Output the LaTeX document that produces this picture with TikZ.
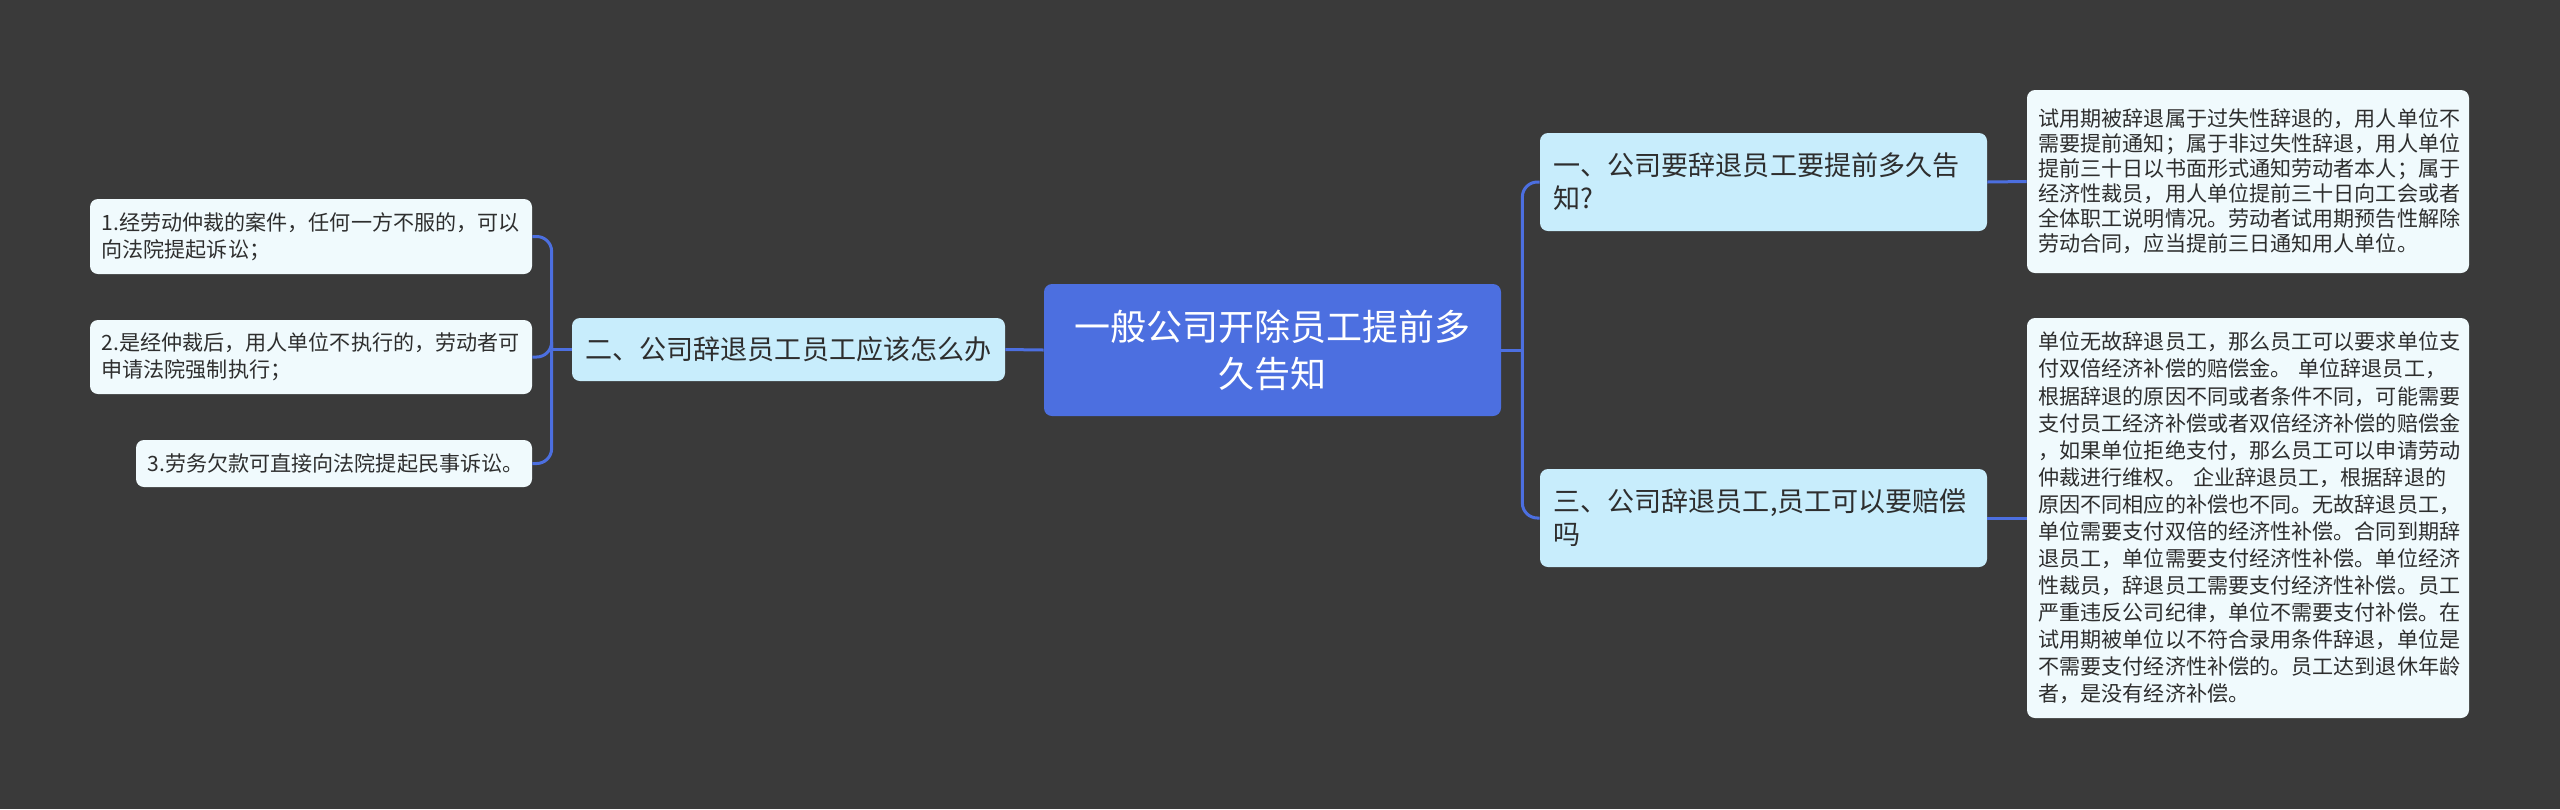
\documentclass[tikz,border=0pt]{standalone}
\usepackage{fontspec}
\setmainfont{Noto Sans CJK SC}
\definecolor{bgdark}{HTML}{3A3A3A}
\definecolor{rootblue}{HTML}{4C6FE0}
\definecolor{topiccyan}{HTML}{C8EDFC}
\definecolor{leafwhite}{HTML}{F0FAFD}
\definecolor{linkblue}{HTML}{4C6FE0}
\definecolor{textdark}{HTML}{2E2E2E}
\begin{document}
\begin{tikzpicture}[
  every node/.style={rounded corners=0.16cm, inner ysep=0pt, text=textdark},
  root/.style={fill=rootblue, text=white, minimum width=9.14cm, minimum height=2.64cm, align=center, font=\fontsize{20.5pt}{26.8pt}\selectfont},
  topic/.style={fill=topiccyan, minimum height=1.96cm, inner xsep=0.27cm, text width=8.4cm, align=left, font=\fontsize{15.4pt}{18.8pt}\selectfont},
  leaf/.style={fill=leafwhite, inner xsep=0.23cm, text width=8.38cm, align=left, font=\fontsize{12pt}{15.2pt}\selectfont},
  link/.style={draw=linkblue, line width=0.06cm}
]
  \fill[bgdark] (0,0) rectangle (51.2,-16.18);

  \node[root] (root) at (25.45,-7.0) {一般公司开除员工提前多\\久告知};
  \node[topic] (one) at (35.27,-3.64) {一、公司要辞退员工要提前多久告\\知?};
  \node[topic] (three) at (35.27,-10.36) {三、公司辞退员工,员工可以要赔偿\\吗};
  \node[topic, minimum height=1.26cm, text width=8.12cm, align=center] (two) at (15.77,-6.99) {二、公司辞退员工员工应该怎么办};

  \node[leaf, minimum height=3.66cm, font=\fontsize{12pt}{14.2pt}\selectfont] (ra) at (44.96,-3.63) {试用期被辞退属于过失性辞退的，用人单位不\\需要提前通知；属于非过失性辞退，用人单位\\提前三十日以书面形式通知劳动者本人；属于\\经济性裁员，用人单位提前三十日向工会或者\\全体职工说明情况。劳动者试用期预告性解除\\劳动合同，应当提前三日通知用人单位。};
  \node[leaf, minimum height=8.0cm, font=\fontsize{12pt}{15.4pt}\selectfont] (rb) at (44.96,-10.36) {单位无故辞退员工，那么员工可以要求单位支\\付双倍经济补偿的赔偿金。 单位辞退员工，\\根据辞退的原因不同或者条件不同，可能需要\\支付员工经济补偿或者双倍经济补偿的赔偿金\\，如果单位拒绝支付，那么员工可以申请劳动\\仲裁进行维权。 企业辞退员工，根据辞退的\\原因不同相应的补偿也不同。无故辞退员工，\\单位需要支付双倍的经济性补偿。合同到期辞\\退员工，单位需要支付经济性补偿。单位经济\\性裁员，辞退员工需要支付经济性补偿。员工\\严重违反公司纪律，单位不需要支付补偿。在\\试用期被单位以不符合录用条件辞退，单位是\\不需要支付经济性补偿的。员工达到退休年龄\\者，是没有经济补偿。};

  \node[leaf, minimum height=1.5cm] (la) at (6.22,-4.73) {1.经劳动仲裁的案件，任何一方不服的，可以\\向法院提起诉讼；};
  \node[leaf, minimum height=1.48cm] (lb) at (6.22,-7.14) {2.是经仲裁后，用人单位不执行的，劳动者可\\申请法院强制执行；};
  \node[leaf, minimum height=0.94cm, text width=7.46cm] (lc) at (6.68,-9.27) {3.劳务欠款可直接向法院提起民事诉讼。};

  \coordinate (spL) at ([xshift=-0.4cm]two.west);
  \coordinate (spR) at ([xshift=0.42cm]root.east);
  \draw[link] (root.west) -- (two.east);
  \draw[link] (two.west) -- (spL);
  \foreach \n in {la,lb,lc}
    \draw[link, rounded corners=0.3cm] (spL) |- (\n.east);
  \draw[link] (root.east) -- (spR);
  \foreach \n in {one,three}
    \draw[link, rounded corners=0.3cm] (spR) |- (\n.west);
  \draw[link] (one.east) -- (ra.west);
  \draw[link] (three.east) -- (rb.west);
\end{tikzpicture}
\end{document}
